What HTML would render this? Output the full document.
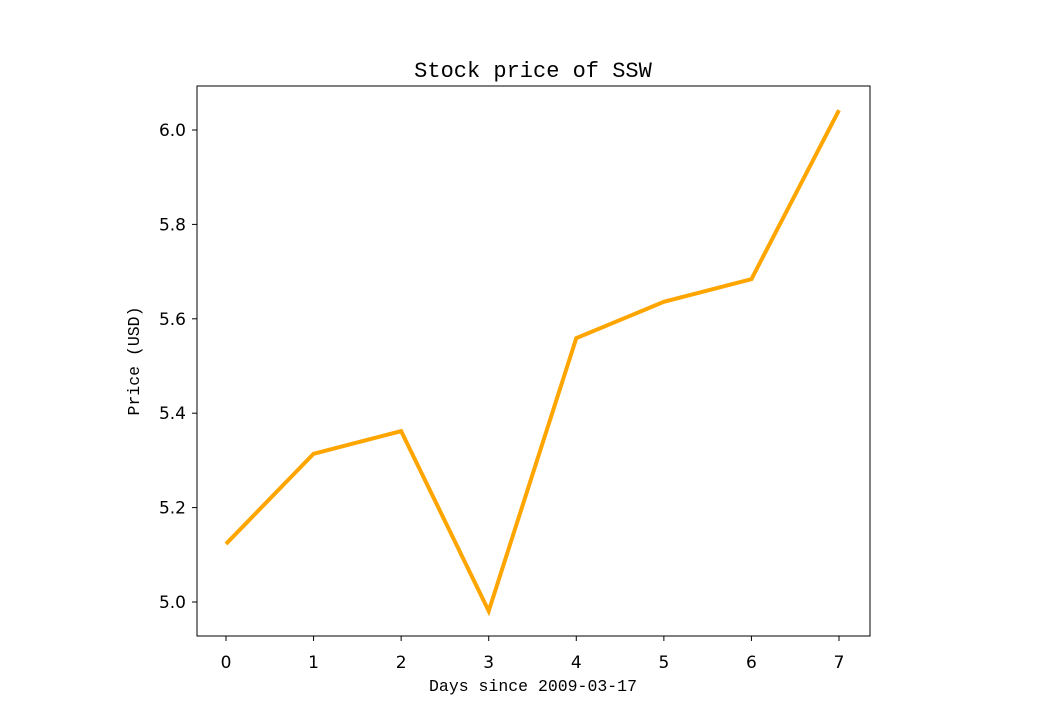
<!DOCTYPE html>
<html><head><meta charset="utf-8"><style>
html,body{margin:0;padding:0;background:#fff;}
svg text{fill:#000;}
.mono{font-family:"Liberation Mono","DejaVu Sans Mono",monospace;}
.sans{font-family:"DejaVu Sans","Liberation Sans",sans-serif;}
</style></head><body>
<svg id="chart" width="1040" height="715" xmlns="http://www.w3.org/2000/svg">
<rect x="0" y="0" width="1040" height="715" fill="#fff"/>
<text x="533" y="77" text-anchor="middle" class="mono" font-size="22">Stock price of SSW</text>
<g id="xticks"></g>
<g id="yticks"></g>
<polyline id="line" fill="none" stroke="#FFA500" stroke-width="4" stroke-linejoin="miter"/>
<rect x="197" y="86" width="673" height="550" fill="none" stroke="#000" stroke-width="1"/>
<text x="533" y="691" text-anchor="middle" class="mono" font-size="16.5">Days since 2009-03-17</text>
<text transform="translate(139,361) rotate(-90)" text-anchor="middle" class="mono" font-size="16.5">Price (USD)</text>
</svg>
<script>
const days = [0,1,2,3,4,5,6,7];
const prices = [5.123,5.314,5.362,4.981,5.559,5.636,5.684,6.042];
const xTickLabels = ["0","1","2","3","4","5","6","7"];
const yTickValues = [5.0,5.2,5.4,5.6,5.8,6.0];
const yTickLabels = ["5.0","5.2","5.4","5.6","5.8","6.0"];
const NS="http://www.w3.org/2000/svg";
function xs(v){return 226+(v-0)*(839-226)/7;}
function ys(v){return 602-(v-5.0)*(602-130)/1.0;}
const xg=document.getElementById('xticks'), yg=document.getElementById('yticks');
days.forEach((d,i)=>{
  const t=document.createElementNS(NS,'line');
  
  
  t.setAttribute('x1',xs(d));t.setAttribute('x2',xs(d));t.setAttribute('y1',636);t.setAttribute('y2',641);t.setAttribute('stroke','#000');
  xg.appendChild(t);
  const l=document.createElementNS(NS,'text');
  
  
  l.setAttribute('x',xs(d));l.setAttribute('y',668);l.setAttribute('text-anchor','middle');l.setAttribute('class','sans');l.setAttribute('font-size','17');
  l.textContent=xTickLabels[i];xg.appendChild(l);
});
yTickValues.forEach((v,i)=>{
  const t=document.createElementNS(NS,'line');
  
  
  t.setAttribute('x1',192);t.setAttribute('x2',197);t.setAttribute('y1',ys(v));t.setAttribute('y2',ys(v));t.setAttribute('stroke','#000');
  yg.appendChild(t);
  const l=document.createElementNS(NS,'text');
  
  
  l.setAttribute('x',186);l.setAttribute('y',ys(v)+6);l.setAttribute('text-anchor','end');l.setAttribute('class','sans');l.setAttribute('font-size','17');
  l.textContent=yTickLabels[i];yg.appendChild(l);
});
document.getElementById('line').setAttribute('points',days.map((d,i)=>xs(d)+','+ys(prices[i])).join(' '));
</script>
</body></html>
